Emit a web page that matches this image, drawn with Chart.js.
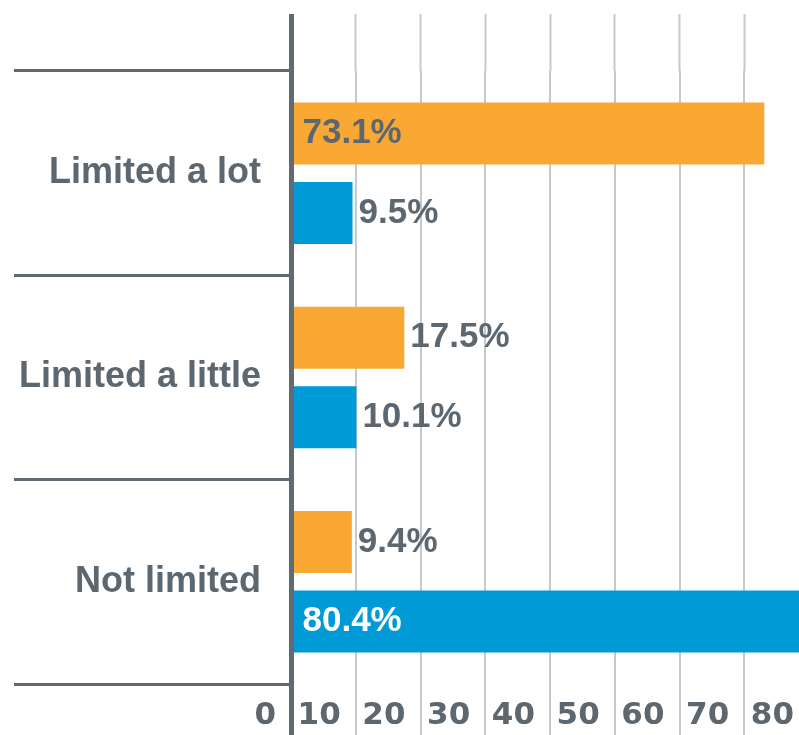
<!DOCTYPE html>
<html>
<head>
    <title>Limitation chart</title>
    <script src="https://cdn.jsdelivr.net/npm/chart.js"></script>
    <style>
        html, body { margin: 0; padding: 0; background: #fff; overflow: hidden; }
        #wrap { width: 812px; height: 735px; }
    </style>
</head>
<body>
    <div id="wrap">
        <canvas id="chart" width="812" height="735"></canvas>
    </div>

    <script>
        // chart data
        const categories = ['Limited a lot', 'Limited a little', 'Not limited'];
        const orangeValues = [73.1, 17.5, 9.4];
        const blueValues = [9.5, 10.1, 80.4];
        const xTicks = [0, 10, 20, 30, 40, 50, 60, 70, 80];

        const textColor = '#5c6770';
        const axisColor = '#5f6a73';
        const gridColor = '#c4c9cd';
        const fontFamily = "'Liberation Sans', Arial, sans-serif";

        // value labels: big bars get the label inside, small ones just after the end
        const valueLabels = {
            id: 'valueLabels',
            afterDatasetsDraw(chart) {
                const ctx = chart.ctx;
                ctx.save();
                ctx.font = 'bold 35px ' + fontFamily;
                ctx.textBaseline = 'middle';
                ctx.textAlign = 'left';
                chart.data.datasets.forEach((ds, i) => {
                    const meta = chart.getDatasetMeta(i);
                    meta.data.forEach((bar, j) => {
                        const v = ds.data[j];
                        const txt = v.toFixed(1) + '%';
                        if (v > 50) {
                            ctx.fillStyle = ds.insideLabelColor;
                            ctx.fillText(txt, bar.base + 9, bar.y);
                        } else {
                            ctx.fillStyle = textColor;
                            ctx.fillText(txt, bar.x + 6, bar.y);
                        }
                    });
                });
                ctx.restore();
            }
        };

        const zeroColor = c => (c.tick && c.tick.value === 0) ? axisColor : gridColor;
        const zeroWidth = c => (c.tick && c.tick.value === 0) ? 5 : 2;

        new Chart(document.getElementById('chart'), {
            type: 'bar',
            data: {
                labels: categories,
                datasets: [
                    {
                        data: orangeValues,
                        backgroundColor: '#f9a834',
                        insideLabelColor: textColor,
                        categoryPercentage: 0.778,
                        barPercentage: 0.78
                    },
                    {
                        data: blueValues,
                        backgroundColor: '#009bd7',
                        insideLabelColor: '#ffffff',
                        categoryPercentage: 0.778,
                        barPercentage: 0.78
                    }
                ]
            },
            options: {
                indexAxis: 'y',
                responsive: false,
                animation: false,
                layout: { padding: { top: 14, right: 3, left: 0, bottom: 0 } },
                plugins: {
                    legend: { display: false },
                    tooltip: { enabled: false }
                },
                scales: {
                    x: {
                        position: 'bottom',
                        min: 0,
                        max: 80,
                        afterBuildTicks: s => { s.ticks = xTicks.map(v => ({ value: v })); },
                        grid: {
                            color: zeroColor,
                            lineWidth: zeroWidth,
                            tickColor: zeroColor,
                            tickWidth: zeroWidth,
                            tickLength: 51
                        },
                        border: { display: false },
                        ticks: {
                            autoSkip: false,
                            maxRotation: 0,
                            align: 'end',
                            labelOffset: -15,
                            padding: -38,
                            color: textColor,
                            font: { family: "'DejaVu Sans', sans-serif", size: 31, weight: 'bold' }
                        },
                        afterFit: s => { s.height = 51; }
                    },
                    xTop: {
                        position: 'top',
                        min: 0,
                        max: 80,
                        afterBuildTicks: s => { s.ticks = xTicks.map(v => ({ value: v })); },
                        grid: {
                            drawOnChartArea: false,
                            tickColor: zeroColor,
                            tickWidth: zeroWidth,
                            tickLength: 57
                        },
                        border: { display: false },
                        ticks: { display: false },
                        afterFit: s => { s.height = 57; }
                    },
                    y: {
                        position: 'left',
                        grid: {
                            offset: true,
                            drawOnChartArea: false,
                            tickColor: axisColor,
                            tickWidth: 3,
                            tickLength: 277
                        },
                        border: { display: true, color: axisColor, width: 5, z: 1 },
                        ticks: {
                            padding: -247,
                            color: textColor,
                            font: { family: fontFamily, size: 36, weight: 'bold' }
                        },
                        afterFit: s => { s.width = 291; }
                    }
                }
            },
            plugins: [valueLabels]
        });
    </script>
</body>
</html>
